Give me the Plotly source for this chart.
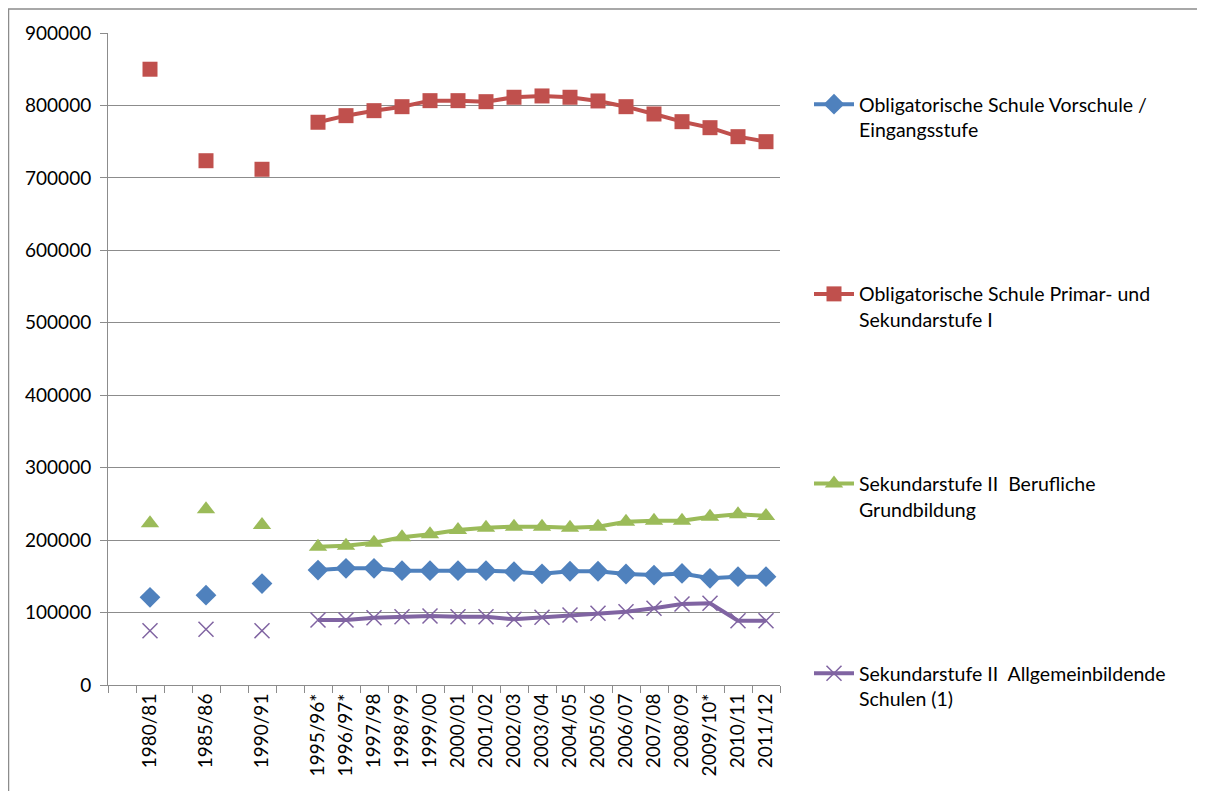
import plotly.graph_objects as go

categories = ["", "1980/81", "", "1985/86", "", "1990/91", "", "1995/96*", "1996/97*", "1997/98",
              "1998/99", "1999/00", "2000/01", "2001/02", "2002/03", "2003/04", "2004/05", "2005/06",
              "2006/07", "2007/08", "2008/09", "2009/10*", "2010/11", "2011/12"]

vorschule = [None, 121000, None, 124000, None, 140000, None, 158700, 161000, 161000,
             157800, 157800, 157800, 157800, 156400, 153500, 157000, 157000,
             153200, 151800, 154000, 147300, 149500, 149500]
primar = [None, 850000, None, 723700, None, 711900, None, 776800, 785900, 792800,
          798300, 806600, 806600, 805200, 811300, 813100, 811300, 806200,
          798300, 788200, 777600, 769300, 756900, 750000]
beruflich = [None, 223200, None, 242500, None, 220900, None, 190900, 192300, 196400,
             203900, 208000, 214000, 217100, 218500, 218500, 217100, 218500,
             225400, 226800, 226800, 232300, 235600, 233300]
allgemein = [None, 75000, None, 76900, None, 75000, None, 89700, 89700, 92900,
             94300, 95200, 94300, 94300, 90700, 93500, 96600, 99000,
             101200, 105900, 111800, 112800, 88800, 88800]

names = ["Obligatorische Schule Vorschule /<br>Eingangsstufe",
         "Obligatorische Schule Primar- und<br>Sekundarstufe I",
         "Sekundarstufe II  Berufliche<br>Grundbildung",
         "Sekundarstufe II  Allgemeinbildende<br>Schulen (1)"]
y_ticks = [0, 100000, 200000, 300000, 400000, 500000, 600000, 700000, 800000, 900000]

xs = list(range(len(categories)))
FONT = "Lato, 'Open Sans', sans-serif"
GRID = "#8c8c8c"

fig = go.Figure()
fig.add_trace(go.Scatter(x=xs, y=vorschule, name=names[0], mode="lines+markers",
                         line=dict(color="#4F81BD", width=4),
                         marker=dict(symbol="diamond", size=16, color="#4F81BD"),
                         legendgroup="a"))
fig.add_trace(go.Scatter(x=xs, y=primar, name=names[1], mode="lines+markers",
                         line=dict(color="#C0504D", width=4),
                         marker=dict(symbol="square", size=15, color="#C0504D"),
                         legendgroup="b"))
fig.add_trace(go.Scatter(x=xs, y=beruflich, name=names[2], mode="lines+markers",
                         line=dict(color="#9BBB59", width=4),
                         marker=dict(symbol="triangle-up", size=16, color="#9BBB59"),
                         legendgroup="c"))
fig.add_trace(go.Scatter(x=xs, y=allgemein, name=names[3], mode="lines+markers",
                         line=dict(color="#8064A2", width=4),
                         marker=dict(symbol="x-thin", size=15, color="#8064A2",
                                     line=dict(color="#8064A2", width=1.5)),
                         legendgroup="d"))

# page has an 8px body margin; work in figure coordinates
W, H = 1197, 783
L, T = 100, 25
R, B = W - 772, H - 677
pw, ph = W - L - R, H - T - B

fig.update_layout(
    width=W, height=H,
    margin=dict(l=L, r=R, t=T, b=B),
    paper_bgcolor="white", plot_bgcolor="white",
    font=dict(family=FONT, size=19, color="#000000"),
    showlegend=True,
    legend=dict(x=(801 - L) / pw, y=1 - (77 - T) / ph, xanchor="left", yanchor="top",
                valign="top", tracegroupgap=136, font=dict(size=19.5, family=FONT),
                itemwidth=40, bgcolor="rgba(0,0,0,0)"),
    xaxis=dict(range=[-0.5, len(categories) - 0.5], tickmode="array", tickvals=xs,
               ticktext=categories, tickangle=-90, ticks="", showgrid=False,
               showline=True, linecolor=GRID, linewidth=1, zeroline=False,
               tickfont=dict(size=19, family=FONT),
               minor=dict(tickmode="array", tickvals=[i - 0.5 for i in range(len(categories) + 1)],
                          ticks="outside", ticklen=7, tickcolor=GRID, showgrid=False)),
    yaxis=dict(range=[0, 900000], tickmode="array", tickvals=y_ticks,
               ticktext=[str(v) for v in y_ticks], showgrid=True, gridcolor=GRID, gridwidth=1,
               showline=True, linecolor=GRID, linewidth=1, zeroline=False,
               ticks="outside", ticklen=7, tickcolor=GRID, ticklabelstandoff=5,
               tickfont=dict(size=19, family=FONT)),
    shapes=[dict(type="rect", xref="paper", yref="paper",
                 x0=(0.5 - L) / pw, x1=(W + 20 - L) / pw,
                 y0=-(H + 20 - ph - T) / ph, y1=1 + (T - 1) / ph,
                 line=dict(color="#8c8c8c", width=1.5), fillcolor="rgba(0,0,0,0)", layer="below")],
)

fig.write_html("out.html")
